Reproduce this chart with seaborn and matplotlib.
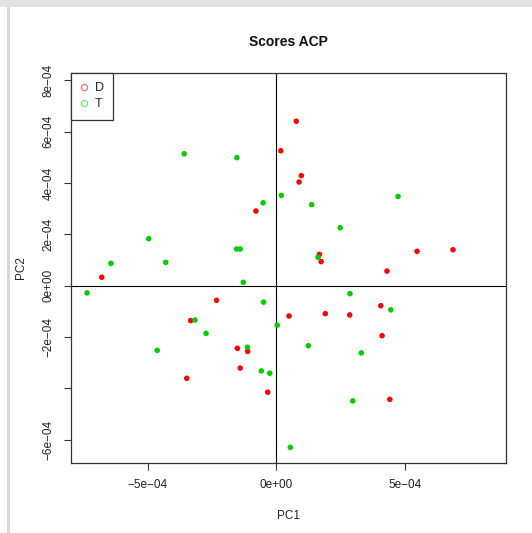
import matplotlib
matplotlib.use("Agg")
import matplotlib.pyplot as plt
import seaborn as sns
import pandas as pd
from matplotlib.lines import Line2D
from matplotlib.patches import Rectangle

# ---- data (PC scores, in units of 1e-4) ----
UNIT = 1e-4
pc1_D = [0.78, 0.18, 0.98, 0.89, -0.79, 5.48, 6.88, 1.68, 1.75, 4.31, -6.79, -2.32,
         4.07, 0.50, 1.91, 2.86, -3.33, 4.12, -1.51, -1.11, -1.40, -3.48, -0.33, 4.42]
pc2_D = [6.41, 5.26, 4.29, 4.04, 2.91, 1.34, 1.40, 1.22, 0.94, 0.57, 0.33, -0.57,
         -0.78, -1.18, -1.09, -1.14, -1.36, -1.95, -2.44, -2.56, -3.21, -3.61, -4.15, -4.43]
pc1_T = [-3.58, -1.53, -0.51, 0.20, 4.74, 1.38, -4.96, -1.54, -1.40, 2.49, 1.63, -6.43,
         -4.30, -1.28, -7.36, 2.87, -0.49, 4.46, -3.16, 0.04, -2.73, 1.25, 3.31, -4.63,
         -1.12, -0.58, -0.25, 2.98, 0.55]
pc2_T = [5.14, 4.99, 3.23, 3.52, 3.48, 3.16, 1.83, 1.43, 1.43, 2.26, 1.11, 0.87,
         0.91, 0.13, -0.28, -0.31, -0.64, -0.94, -1.34, -1.54, -1.86, -2.34, -2.62, -2.52,
         -2.40, -3.32, -3.41, -4.49, -6.30]
groups = ["D", "T"]
group_colors = ["#FF0000", "#00CD00"]

x_ticks = [-5e-4, 0.0, 5e-4]
x_tick_labels = ["\u22125e\u221204", "0e+00", "5e\u221204"]
y_ticks = [-6e-4, -4e-4, -2e-4, 0.0, 2e-4, 4e-4, 6e-4, 8e-4]
y_tick_labels = ["\u22126e\u221204", "", "\u22122e\u221204", "0e+00", "2e\u221204",
                 "4e\u221204", "6e\u221204", "8e\u221204"]
title = "Scores ACP"
x_label = "PC1"
y_label = "PC2"

df = pd.DataFrame({
    "PC1": [v * UNIT for v in pc1_D + pc1_T],
    "PC2": [v * UNIT for v in pc2_D + pc2_T],
    "group": ["D"] * len(pc1_D) + ["T"] * len(pc1_T),
})

sns.set_style("white")
plt.rcParams["font.family"] = ["Liberation Sans", "DejaVu Sans"]

W, H = 532, 533
fig = plt.figure(figsize=(W / 100, H / 100), dpi=100)
fig.patch.set_facecolor("white")

L, R, T, B = 71.3, 506.3, 73.0, 462.7
ax = fig.add_axes([L / W, 1 - B / H, (R - L) / W, (B - T) / H])

sns.scatterplot(data=df, x="PC1", y="PC2", hue="group", hue_order=groups,
                palette=dict(zip(groups, group_colors)), s=16, linewidth=0,
                legend=False, ax=ax, zorder=3)

ax.axhline(0, color="black", lw=0.8, zorder=2)
ax.axvline(0, color="black", lw=0.8, zorder=2)

ax.set_xlim(-7.973e-4, 8.953e-4)
ax.set_ylim(-6.898e-4, 8.289e-4)

ax.set_xticks(x_ticks)
ax.set_xticklabels(x_tick_labels, fontsize=8.5, color="#222222")
ax.set_yticks(y_ticks)
ax.set_yticklabels(y_tick_labels, fontsize=8.5, color="#222222", rotation=90, va="center")
ax.tick_params(axis="both", direction="out", length=5, width=0.8, color="#333333",
               bottom=True, left=True, pad=7)
ax.set_xlabel("")
ax.set_ylabel("")
for sp in ax.spines.values():
    sp.set_visible(True)
    sp.set_color("#333333")
    sp.set_linewidth(0.9)

fig.text(((L + R) / 2) / W, 1 - 42.4 / H, title, ha="center", va="center",
         fontsize=10, fontweight="bold", color="#111111")
fig.text(((L + R) / 2) / W, 1 - 516 / H, x_label, ha="center", va="center",
         fontsize=8.5, color="#222222")
fig.text(21 / W, 1 - ((T + B) / 2) / H, y_label, ha="center", va="center",
         fontsize=8.5, rotation=90, color="#222222")

handles = [Line2D([], [], linestyle="none", marker="o", markersize=4.5, alpha=0.6,
                  markerfacecolor="none", markeredgecolor=c, markeredgewidth=0.8)
           for c in group_colors]
leg = ax.legend(handles, groups, loc="upper left", bbox_to_anchor=(0, 1),
                borderaxespad=0, fancybox=False, framealpha=1, edgecolor="#333333",
                fontsize=9, handlelength=0.6, handletextpad=0.55, borderpad=0.75,
                labelspacing=0.3)
leg.get_frame().set_linewidth(0.9)

# light gray screenshot border (top band and left line)
fig.patches.append(Rectangle((0, 1 - 7 / H), 1, 7 / H, transform=fig.transFigure,
                             facecolor="#e2e2e2", edgecolor="none", zorder=0))
fig.patches.append(Rectangle((7 / W, 0), 2.5 / W, 1 - 7 / H, transform=fig.transFigure,
                             facecolor="#d8d8d8", edgecolor="none", zorder=0))

fig.savefig("out.png", dpi=100)
